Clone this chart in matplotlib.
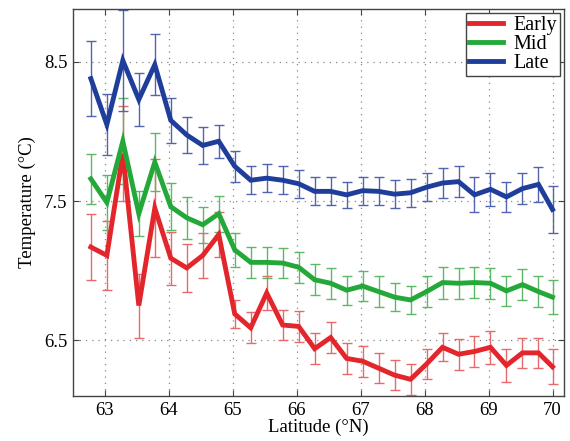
import matplotlib
matplotlib.use("Agg")
import matplotlib.pyplot as plt
import numpy as np

plt.rcParams['font.family'] = ['Liberation Serif', 'DejaVu Serif']

# Latitude bin centres (°N)
latitude = [62.78, 63.03, 63.28, 63.53, 63.78, 64.03, 64.28, 64.53, 64.78, 65.03,
            65.28, 65.53, 65.78, 66.03, 66.28, 66.53, 66.78, 67.03, 67.28, 67.53,
            67.78, 68.03, 68.28, 68.53, 68.78, 69.03, 69.28, 69.53, 69.78, 70.00]

early = [7.17, 7.11, 7.84, 6.75, 7.45, 7.09, 7.02, 7.11, 7.26, 6.69,
         6.59, 6.84, 6.61, 6.60, 6.44, 6.52, 6.37, 6.35, 6.30, 6.25,
         6.22, 6.33, 6.45, 6.40, 6.42, 6.45, 6.32, 6.41, 6.41, 6.31]
early_err = [0.24, 0.25, 0.34, 0.23, 0.35, 0.19, 0.17, 0.16, 0.16, 0.10,
             0.11, 0.12, 0.11, 0.11, 0.11, 0.11, 0.11, 0.11, 0.11, 0.11,
             0.11, 0.11, 0.10, 0.11, 0.11, 0.12, 0.12, 0.11, 0.11, 0.125]

mid = [7.66, 7.49, 7.93, 7.41, 7.78, 7.46, 7.38, 7.33, 7.41, 7.15,
       7.06, 7.06, 7.055, 7.025, 6.935, 6.91, 6.86, 6.89, 6.85, 6.81,
       6.79, 6.85, 6.915, 6.91, 6.915, 6.91, 6.855, 6.90, 6.85, 6.81]
mid_err = [0.18, 0.20, 0.31, 0.16, 0.21, 0.17, 0.15, 0.13, 0.13, 0.12,
           0.11, 0.11, 0.11, 0.11, 0.11, 0.11, 0.105, 0.11, 0.11, 0.10,
           0.10, 0.11, 0.115, 0.11, 0.11, 0.11, 0.11, 0.11, 0.11, 0.12]

late = [8.38, 8.05, 8.51, 8.23, 8.48, 8.08, 7.975, 7.90, 7.93, 7.75,
        7.65, 7.665, 7.65, 7.625, 7.57, 7.57, 7.545, 7.575, 7.57, 7.55,
        7.56, 7.60, 7.63, 7.64, 7.545, 7.585, 7.53, 7.59, 7.62, 7.44]
late_err = [0.27, 0.22, 0.36, 0.19, 0.22, 0.16, 0.13, 0.13, 0.12, 0.11,
            0.10, 0.10, 0.10, 0.10, 0.10, 0.10, 0.095, 0.10, 0.10, 0.10,
            0.10, 0.10, 0.11, 0.11, 0.125, 0.12, 0.11, 0.11, 0.125, 0.17]

series = [
    ("Early", early, early_err, "#e3262b", "#e6696c"),
    ("Mid", mid, mid_err, "#25a83a", "#5cb864"),
    ("Late", late, late_err, "#1f3e9c", "#5264ae"),
]

fig = plt.figure(figsize=(5.7, 4.41), dpi=100)
ax = fig.add_axes([0.128, 0.102, 0.8615, 0.8776])

for name, vals, err, col, ecol in series:
    ax.errorbar(latitude, vals, yerr=err, fmt='none', ecolor=ecol,
                elinewidth=1.0, capsize=3.5, capthick=1.0, zorder=2)
    ax.plot(latitude, vals, color=col, lw=3.5, label=name, zorder=3,
            solid_joinstyle='miter')

ax.set_xlim(62.5, 70.18)
ax.set_ylim(6.1, 8.88)
ax.set_xticks([63, 64, 65, 66, 67, 68, 69, 70])
ax.set_yticks([6.5, 7.5, 8.5])
ax.tick_params(direction='in', top=True, right=True, labelsize=13.5,
               length=4, width=0.8, color='#444444', pad=4)
ax.grid(True, linestyle=(0, (1, 4)), color='#888888', linewidth=0.9)
for sp in ax.spines.values():
    sp.set_color('#444444')
    sp.set_linewidth(1.0)

ax.set_xlabel("Latitude (°N)", fontsize=13.5, labelpad=0)
ax.set_ylabel("Temperature (°C)", fontsize=13.5, labelpad=6)

leg = ax.legend(loc='upper right', fontsize=14.5, fancybox=False,
                framealpha=1, edgecolor='#444444', handlelength=1.7,
                borderpad=0.15, labelspacing=0.0, handletextpad=0.5,
                borderaxespad=0.2)
leg.get_frame().set_linewidth(1.0)

fig.savefig("out.png", dpi=100)
